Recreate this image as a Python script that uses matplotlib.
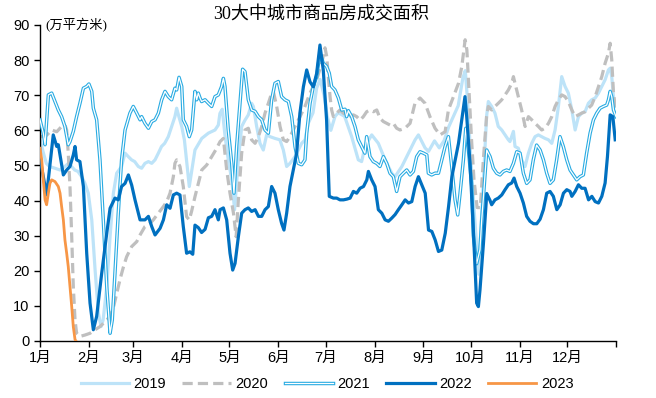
"""30大中城市商品房成交面积 — yearly comparison, day-of-year on x."""
import matplotlib as mpl
mpl.use("Agg")
import matplotlib.pyplot as plt
import matplotlib.patheffects as pe
import numpy as np

C2019 = "#BDE3F8"
C2020 = "#BFBFBF"
C2021 = "#29ABE2"
C2022 = "#0070C0"
C2023 = "#F79646"

mpl.rcParams.update(
    {
        "font.family": ["Liberation Sans", "Noto Sans CJK SC", "DejaVu Sans"],
        "font.size": 10,
        "axes.spines.top": False,
        "axes.spines.right": False,
    }
)

TITLE = "30大中城市商品房成交面积"
UNIT = "(万平方米)"
MONTH_START = [0, 31, 59, 90, 120, 151, 181, 212, 243, 273, 304, 334]
MONTH_LABELS = [f"{m}月" for m in range(1, 13)]

# (day of year, 万平方米)
P2019 = [(0, 57.6), (2, 53.8), (4, 50.6), (6, 49.7), (9.5, 49.2), (12.7, 48.7), (15.8, 49.7),
         (18, 50.6), (20, 49.7), (22, 48.7), (24, 48.3), (26.4, 46.8), (28.5, 44.9), (30.6, 42.1),
         (32.8, 34.5), (34.9, 20.3), (37, 7.9), (38.7, 4.1), (40, 6), (42.3, 15.5), (44.4, 29.7),
         (46.5, 42.1), (48.6, 47.8), (51.7, 49.7), (53.9, 53.5), (56, 52.5), (58, 51.6), (60, 51.1),
         (62.3, 49.7), (64.4, 49.2), (66.5, 50.6), (68.7, 51.1), (70.8, 50.6), (72.9, 51.6),
         (75, 53.5), (77, 55.4), (79, 56.3), (81.3, 58.2), (83.4, 61.1), (85.5, 63.9), (86.6, 66.3),
         (88, 63.9), (89.8, 61.1), (91.5, 57.3), (94.6, 44), (98.2, 54.4), (102.5, 57.7),
         (106.7, 59.2), (110.9, 60.1), (113, 61.5), (114, 64.8), (115.5, 66), (117.3, 58.2),
         (119.3, 51.6), (121.5, 45.9), (123.3, 37.4), (125.7, 51.6), (127.8, 61.1), (129.9, 62.9),
         (132, 64.4), (134.1, 67.7), (135.2, 66.8), (137.3, 61.1), (139.4, 56.3), (141.5, 54.4),
         (143.6, 58.7), (145.8, 58.2), (148.9, 57.7), (152, 57.3), (154.2, 54.4), (156.3, 49.7),
         (158.4, 50.6), (161.6, 52.5), (165.8, 56.3), (168, 57.3), (170, 62), (173, 65),
         (175.3, 72), (177.5, 74.5), (180, 70), (182, 64), (184.3, 60), (187, 64), (189, 65),
         (193, 64), (197.5, 58.2), (201.7, 51.6), (203.8, 51.1), (206, 55.4), (210.2, 58.7),
         (214.4, 56.3), (218.7, 51.6), (222.9, 47.8), (225, 46.8), (229.3, 49.7), (233.5, 53.5),
         (237.7, 57.3), (239.8, 58.7), (244, 55), (246.2, 54), (250, 57), (253, 55), (256, 57),
         (259, 61), (262, 64), (265, 67), (268, 75), (269.5, 77), (271, 68), (273, 52), (275, 38),
         (278, 19), (281, 46), (283, 64), (284.1, 68.2), (286.2, 66.8), (288.3, 64.9),
         (290.4, 61.1), (292.6, 60.1), (294.7, 58.7), (296.8, 57.3), (297.8, 56.8), (300, 59.7),
         (301, 55.4), (303.1, 54.9), (305.2, 51.6), (307.4, 49.7), (309.5, 53.5), (311.6, 56.3),
         (313.7, 58.2), (315.8, 58.7), (317.9, 58.2), (320, 57.7), (322.2, 57.3), (324.3, 56.3),
         (326.4, 60.1), (328.5, 66.8), (330.6, 75.3), (332.7, 72.5), (334.8, 70.6), (337, 65.8),
         (339.1, 60.1), (341.2, 63.9), (343.3, 64.9), (345.4, 65.3), (347.5, 67.7), (349.6, 68.7),
         (351.8, 69.2), (353.9, 70.6), (356, 72.5), (358.1, 74.4), (360.2, 77.2), (361.3, 77.7),
         (362.3, 75.3), (363.4, 69.6), (365, 66.8)]

P2020 = [(0, 58.1), (4.2, 58.6), (7.4, 60.1), (10.6, 59.6), (13.7, 61.1), (15.8, 61.5),
         (16.9, 60.1), (17.9, 53.5), (19, 44), (20.1, 29.7), (21.1, 15.5), (22.2, 6), (23.2, 2.2),
         (25.3, 1.3), (28.5, 1.7), (31.7, 2.2), (34.9, 3.2), (38, 4.1), (41.2, 5.5), (44.4, 7),
         (46.5, 9.5), (48.6, 13.5), (50.7, 17.5), (52.8, 21), (54.9, 24), (58.1, 26.9),
         (61.3, 28.3), (63.4, 30.2), (66.5, 32.6), (69.7, 33.5), (71.8, 34.5), (75, 36.4),
         (78.2, 38.3), (80.3, 39.7), (82.4, 42.1), (84.5, 46.8), (85.5, 50.6), (86.6, 51.6),
         (88.7, 49.7), (90.8, 44), (92.9, 35.4), (94.6, 34.5), (96.1, 37), (98.2, 41.1),
         (102.5, 48.7), (105.6, 50.1), (108.8, 52.5), (112, 54.9), (114.1, 56.8), (116.2, 57.7),
         (118.3, 48.7), (120.4, 42.1), (122.6, 36.4), (124.3, 29.7), (125.7, 40.2), (127.8, 53.5),
         (129.9, 60.1), (132, 60.6), (134.1, 57.3), (136.3, 56.3), (138.4, 58.2), (140.5, 61.1),
         (142.6, 64.9), (144.7, 67.7), (146.8, 70.6), (147.9, 71), (150, 66.8), (152.1, 61.1),
         (154.2, 57.3), (156.3, 56.8), (158.4, 58.2), (161.6, 61.1), (164.8, 63.9), (167.9, 66.8),
         (171.1, 70.6), (175.3, 74.4), (178.5, 79.1), (180.6, 83.5), (181.7, 81), (182.7, 75.3),
         (183.8, 69.6), (184.8, 65.8), (185.9, 63.9), (188, 64.9), (190.1, 65.8), (192.2, 64.9),
         (195.4, 63.9), (198.6, 64.4), (200.7, 63.9), (202.8, 62.9), (204.9, 63.9), (207, 65.3),
         (209.1, 65.8), (211.3, 65.3), (213.4, 65.8), (215.5, 63.4), (217.6, 62.5), (219.7, 62),
         (221.8, 61.5), (223.9, 62), (226, 60.6), (228.1, 60.1), (231.3, 60.6), (234.5, 62),
         (237.6, 67.7), (240.8, 69.2), (244, 67.7), (247.1, 63.9), (250.3, 60.6), (253.5, 58.7),
         (256.7, 59.6), (258.8, 65.8), (262, 69.6), (265.2, 73.4), (267.3, 78.2), (269.4, 85.8),
         (270.5, 82.9), (272, 70), (273.5, 57), (275, 46), (277, 38), (279, 38), (281, 52),
         (283, 64), (284.1, 66.8), (286.2, 65.8), (288.3, 66.8), (290.4, 67.7), (292.6, 68.7),
         (294.7, 70.1), (296.8, 71.5), (298.9, 73.4), (300, 75.3), (301, 73.4), (303.1, 69.6),
         (305.2, 65.8), (307.4, 61.1), (309.5, 63.9), (311.6, 63), (313.7, 62), (315.8, 61.1),
         (317.9, 60.1), (320, 60.6), (322.2, 62), (324.3, 63.9), (326.4, 66.8), (328.5, 68.7),
         (330.6, 70.1), (332.7, 69.6), (334.8, 68.2), (337, 65.8), (339.1, 63.9), (341.2, 64.4),
         (343.3, 64.9), (345.4, 65.3), (347.5, 66.3), (349.6, 67.2), (351.8, 69.6), (353.9, 72.5),
         (356, 75.3), (358.1, 79.1), (360.2, 82), (361.3, 84.8), (362.3, 80.1), (363.4, 70.6),
         (365, 64.9)]

P2021 = [(0, 63), (2.1, 59.2), (3.2, 55.9), (5.3, 70.1), (7.4, 70.6), (9.5, 68.2), (11.6, 65.8),
         (13.7, 63.9), (15.8, 61.1), (17.9, 55.9), (19, 56.8), (21.1, 59.7), (23.2, 63.9),
         (25.3, 67.7), (27.5, 72), (29.6, 72.5), (31, 73.2), (32.8, 71.1), (33.8, 66.3), (35.9, 63),
         (38, 51.6), (40.1, 34.5), (42.3, 15.5), (44.4, 2.2), (45.8, 6), (47.5, 19.3), (49.6, 36.4),
         (51.7, 51.6), (53.9, 60.1), (57, 64.9), (59.1, 66.8), (61.3, 64.9), (63.4, 63),
         (64.4, 63.9), (66.5, 62), (68.7, 60.6), (70.8, 62.5), (72.9, 63), (75, 64.9), (77.1, 68.7),
         (79.2, 71.1), (81.3, 69.6), (83.4, 68.7), (85.5, 72), (86.6, 71.5), (88.1, 75.1),
         (89.8, 72.5), (90.8, 63), (92.9, 61.1), (94.6, 58.2), (96.1, 60.1), (98.2, 71.1),
         (99.3, 68.7), (100.3, 70.6), (101.4, 69.2), (102.4, 68.2), (104.6, 68.7), (106.7, 67.7),
         (108.8, 66.8), (110.9, 69.6), (113, 70.1), (115.1, 72.5), (116.2, 74.8), (117.2, 72.5),
         (119.3, 60.1), (121.5, 50.6), (122.9, 42.1), (124.6, 55.4), (126.7, 67.7), (128.4, 77.4),
         (129.9, 76.7), (132, 68.7), (134.1, 65.8), (136.3, 65.4), (138.4, 63.9), (140.5, 63),
         (142.6, 60.1), (144.7, 59.2), (146.8, 68.7), (148.9, 73.4), (151, 73.9), (153.1, 69.6),
         (155.2, 68.7), (157.4, 68.2), (159.5, 63.9), (161.6, 55.4), (163.7, 50.6), (165.8, 50.2),
         (167.9, 51.6), (169, 59.2), (171.1, 67.7), (173.2, 72.5), (175.3, 75.3), (177.4, 82),
         (179.5, 79.1), (181.6, 78.2), (183.3, 76.3), (184.8, 72.5), (186.9, 71.5), (189.1, 69.2),
         (191.2, 65.8), (193.3, 66), (194.3, 63.9), (195.4, 65.6), (197.5, 63.9), (199.6, 61.1),
         (201.7, 57.3), (203.8, 55.4), (205.9, 53.5), (207, 58.2), (209.1, 52.5), (211.2, 51.1),
         (213.3, 50.6), (215.4, 49.7), (217.6, 52.5), (219.7, 50.6), (221.8, 47.8), (223.9, 46.8),
         (226, 42.6), (228.1, 46.8), (230.3, 47.8), (232.4, 48.7), (234.5, 47.3), (236.6, 48.3),
         (238.7, 52.5), (240.8, 53.9), (243, 53.5), (245.1, 53), (246.1, 47.8), (248.2, 47.3),
         (250.4, 47.8), (252.5, 47.8), (254.6, 51.6), (256.7, 55.4), (258.8, 58.2), (260.9, 49.7),
         (263, 40.2), (264.7, 35.9), (266.2, 42.1), (268.3, 51.6), (269.8, 60.6), (271.5, 54.4),
         (273.6, 44), (274.6, 30), (276.7, 22), (278.8, 26), (279.9, 34.5), (281, 41),
         (283.1, 54.4), (285.2, 52.5), (287.3, 49.2), (289.4, 47.8), (291.5, 47.3), (293.6, 48.3),
         (295.7, 48.7), (297.8, 48.3), (300, 50.6), (302.1, 53.9), (304.2, 53.5), (306.3, 47.8),
         (308.4, 44.9), (310.5, 45.9), (312.6, 51.6), (314.7, 55.8), (316.9, 54.4), (319, 51.6),
         (321.1, 47.8), (323.2, 44.9), (325.3, 45.9), (327.4, 51.6), (329.5, 58.2), (331.6, 55.4),
         (333.8, 51.6), (335.9, 48.7), (338, 47.3), (340.1, 45.9), (342.2, 46.8), (344.3, 47.3),
         (346.4, 53.5), (348.6, 59.2), (350.7, 63), (352.8, 64.9), (354.9, 66.3), (357, 66.8),
         (359.1, 67.2), (360.2, 68.7), (361.3, 71.1), (362.3, 69.6), (363.4, 65.8), (365, 63.9)]

P2022 = [(0, 52), (4.2, 41.6), (8.4, 58.7), (10.6, 55.4), (11.6, 55.9), (14.8, 47.3), (16.9, 48.7),
         (19, 49.7), (21.1, 53), (22.2, 55.4), (23.2, 51.6), (25.3, 51.1), (27.5, 44), (29.6, 25),
         (31.7, 10.8), (33.8, 3.2), (35.9, 7), (39.1, 19.3), (42.3, 30.7), (44.4, 37.8),
         (47.5, 40.7), (49.6, 40.2), (51.7, 44), (53.9, 44.9), (56, 47.3), (58.1, 44.4),
         (60.2, 40.2), (63.4, 34.5), (66.5, 34.5), (68.7, 35.5), (70.8, 32.6), (72.9, 30.2),
         (76.1, 32.1), (78.2, 34.5), (80.3, 38.8), (82.4, 37.8), (84.5, 41.6), (86.6, 42.1),
         (88.7, 41.6), (90.8, 32.6), (92.9, 25), (95, 25.4), (96.8, 24.7), (98.2, 33),
         (100.3, 32.3), (102.4, 30.9), (104.6, 31.8), (106.7, 35.1), (108.8, 35.5), (110.9, 37.4),
         (113, 34.5), (114.1, 37.4), (116.2, 37.9), (118.3, 34.5), (120.4, 25), (122.1, 20.2),
         (123.6, 22.1), (125.7, 29.7), (127.8, 36.4), (129.9, 37.4), (132, 37.9), (134.1, 36.9),
         (136.3, 37.4), (138.4, 35.5), (140.5, 35.5), (142.6, 37.4), (144.7, 38.3), (146.8, 44),
         (148.9, 42.1), (151, 37.4), (153.1, 33.5), (154.6, 31.6), (156.3, 36.4), (158.4, 44),
         (160.5, 48.7), (162.6, 53.4), (164.7, 64.9), (166.9, 72.4), (169, 77.2), (171.1, 73.8),
         (173.2, 72.4), (175.3, 76.2), (177.4, 84.3), (179.5, 77.2), (181.6, 63), (183.3, 41.2),
         (185.9, 40.7), (188, 40.7), (190.1, 40.2), (192.3, 40.2), (194.4, 40.4), (196.5, 40.7),
         (198.6, 42.6), (200.7, 42.1), (202.8, 43.5), (205, 44), (207.1, 45.9), (208.1, 48.3),
         (210.2, 45.9), (212.3, 44), (214.4, 37.4), (216.6, 36.4), (218.7, 34.5), (220.8, 34.1),
         (222.9, 35), (225, 36), (227.1, 37.4), (229.3, 38.8), (231.4, 40.2), (233.5, 39.3),
         (235.6, 39.7), (237.7, 44), (239.8, 46.8), (242, 44.4), (244.1, 42.1), (246.2, 31.6),
         (248.3, 31.2), (250.4, 28.8), (252.5, 25.5), (254.6, 25.9), (256.8, 30.7), (258.9, 38.3),
         (261, 46.8), (263.1, 51.6), (265.2, 56.3), (267.3, 63), (269.3, 69.6), (270.4, 63.9),
         (272.5, 50.6), (274.6, 31.6), (276.7, 10.8), (277.8, 9.8), (278.8, 14.5), (281, 27.8),
         (283.1, 42), (285.2, 40), (286.2, 38.8), (288.3, 40.2), (290.4, 40.7), (292.6, 41.6),
         (294.7, 43.1), (296.8, 44.5), (298.9, 45), (300.4, 46.4), (302.1, 44), (304.2, 42.1),
         (306.3, 39.3), (308.4, 35.5), (310.5, 34.1), (312.7, 33.4), (314.8, 33.4), (316.9, 34.7),
         (319, 37.4), (321.1, 42.1), (323.2, 42.6), (325.3, 41.2), (327.5, 37.4), (329.6, 38.8),
         (331.7, 42.1), (333.8, 43.1), (335.9, 42.6), (337, 41.2), (339.1, 42.6), (341.2, 44.5),
         (343.3, 43.5), (345.4, 43.5), (347.6, 40.2), (349.7, 41.2), (351.8, 39.7), (353.9, 39.3),
         (356, 41.2), (358.1, 45), (359.6, 52.6), (361.3, 64.4), (363, 63.9), (364.5, 57.3)]

P2023 = [(0, 54.9), (1.1, 51.6), (2.1, 45.9), (3.2, 40.2), (4.2, 38.8), (5.3, 42.1), (6.3, 44.9),
         (7.4, 45.9), (9.5, 45.4), (11.6, 44), (12.7, 42.1), (13.7, 38.3), (14.8, 34.5),
         (15.8, 28.8), (16.9, 25), (17.9, 21.2), (19, 15.5), (20.1, 9.8), (21.1, 4.1), (22.2, 0.4),
         (22.8, 0)]


def xy(points):
    days, vals = zip(*points)
    return np.array(days), np.array(vals)


def main() -> None:
    fig = plt.figure(figsize=(6.56, 3.98), dpi=100)
    ax = fig.add_axes([40 / 656, 57 / 398, 576 / 656, 316 / 398])

    ax.plot(*xy(P2019), color=C2019, lw=2.3, label="2019", zorder=1)
    ax.plot(*xy(P2020), color=C2020, lw=2.3, dashes=(3.2, 1.6), label="2020", zorder=2)
    ax.plot(
        *xy(P2021), color="white", lw=0.9, label="2021", zorder=3,
        path_effects=[pe.Stroke(linewidth=2.5, foreground=C2021), pe.Normal()],
    )
    ax.plot(*xy(P2022), color=C2022, lw=2.3, label="2022", zorder=4)
    ax.plot(*xy(P2023), color=C2023, lw=2.0, label="2023", zorder=5)

    ax.set_xlim(0, 365)
    ax.set_ylim(0, 90)
    ax.set_xticks(MONTH_START + [365])
    ax.set_xticklabels(MONTH_LABELS + [""])
    ax.set_yticks(np.arange(0, 91, 10))
    ax.tick_params(axis="both", direction="out", length=4, width=1, labelsize=10.5, colors="black")
    ax.tick_params(axis="x", pad=3)
    for side in ("left", "bottom"):
        ax.spines[side].set_linewidth(1)
        ax.spines[side].set_color("black")

    ax.text(5 / 576, 1.0, UNIT, transform=ax.transAxes, ha="left", va="center", fontsize=9.5,
            family=["Liberation Serif", "Noto Sans CJK SC"])
    fig.text(321 / 656, 1 - 14 / 398, TITLE, ha="center", va="center", fontsize=13,
             family=["Liberation Serif", "Noto Sans CJK SC"])

    fig.legend(
        loc="center", bbox_to_anchor=(327 / 656, 1 - 384 / 398), ncol=5, frameon=False,
        fontsize=10.5, handlelength=3.3, handletextpad=0.3, columnspacing=1.15,
    )
    fig.savefig("out.png", dpi=100)
    plt.close(fig)


if __name__ == "__main__":
    main()
